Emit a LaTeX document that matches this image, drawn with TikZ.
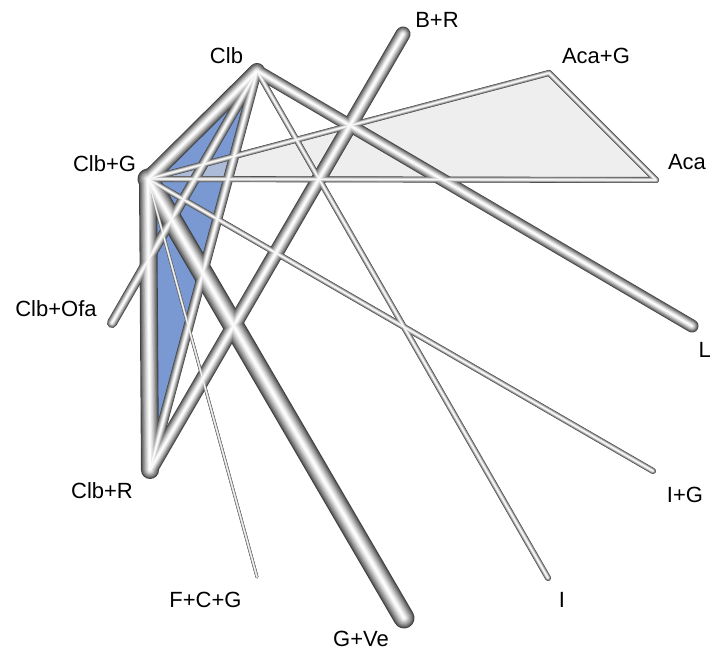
\documentclass[tikz,border=0pt]{standalone}
\usepackage{fontspec}
\setmainfont{Liberation Sans}
\newcommand\tube[3]{%
  \foreach \f/\c in {1/25,0.9/38,0.8/48,0.7/57,0.6/65,0.5/73,0.4/81,0.3/88,0.2/94,0.1/99}{%
    \draw[line cap=round, line width=#3*\f pt, draw=white!\c!black] (#1) -- (#2);
  }%
}
\definecolor{triblue}{RGB}{122,153,210}
\definecolor{trigrey}{RGB}{222,222,222}
\begin{document}
\begin{tikzpicture}[x=1pt,y=-1pt,
  lbl/.style={font=\fontsize{22}{26}\selectfont, inner sep=0pt}]
\useasboundingbox (0,0) rectangle (712,652);
% node points
\coordinate (clb) at (257,71);
\coordinate (br) at (403,34);
\coordinate (acag) at (549,73);
\coordinate (aca) at (656,180);
\coordinate (clbg) at (148,179);
\coordinate (clbofa) at (112,323);
\coordinate (l) at (692,326);
\coordinate (clbr) at (150,470);
\coordinate (ig) at (653,471);
\coordinate (fcg) at (257,577);
\coordinate (i) at (548,578);
\coordinate (gve) at (404,618);
% loop fills
\fill[triblue] (clb) -- (clbg) -- (clbr) -- cycle;
\fill[trigrey, fill opacity=0.5] (clbg) -- (acag) -- (aca) -- cycle;
% edges
\begin{scope}[blend group=lighten]
\tube{clbg}{gve}{21}
\tube{clbg}{clbr}{18}
\tube{clb}{clbg}{16}
\tube{br}{clbr}{15}
\tube{clb}{l}{13}
\tube{clb}{clbr}{10}
\tube{clb}{clbofa}{10}
\tube{clb}{i}{6}
\tube{clbg}{ig}{6}
\tube{clbg}{aca}{6}
\tube{clbg}{acag}{6}
\tube{acag}{aca}{6}
\tube{clbg}{fcg}{3}
\end{scope}
% labels
\node[lbl] (tclb) at (226.5,56) {Clb};
\node[lbl] (tbr) at (437,19.5) {B+R};
\node[lbl] (tacag) at (596,56) {Aca+G};
\node[lbl] (taca) at (687,162) {Aca};
\node[lbl] (tclbg) at (104.5,164) {Clb+G};
\node[lbl] (tclbofa) at (56,309) {Clb+Ofa};
\node[lbl, anchor=east] (tl) at (711,349.5) {L};
\node[lbl] (tclbr) at (102,491) {Clb+R};
\node[lbl] (tig) at (685,495) {I+G};
\node[lbl] (tfcg) at (205.5,600) {F+C+G};
\node[lbl] (ti) at (562,600) {I};
\node[lbl] (tgve) at (361,638.5) {G+Ve};
\end{tikzpicture}
\end{document}
